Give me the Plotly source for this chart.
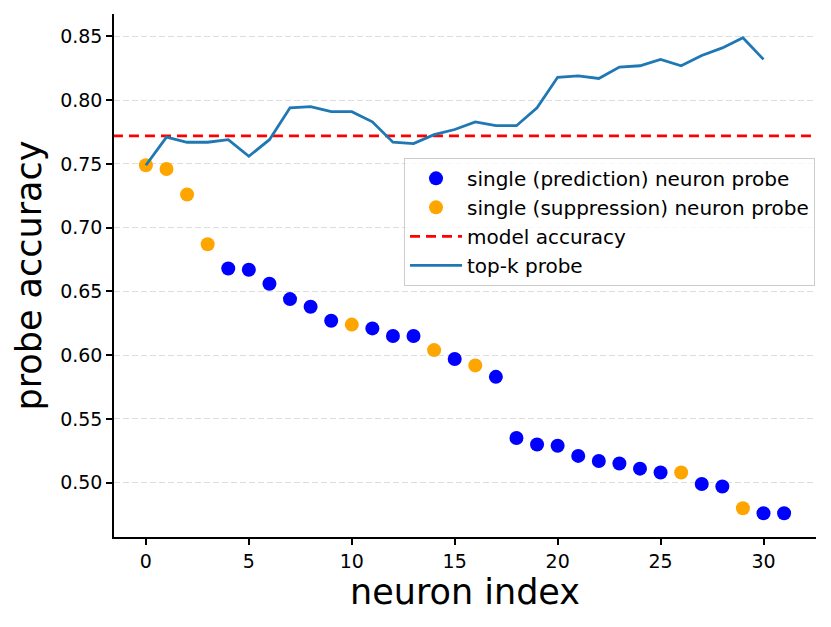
import plotly.graph_objects as go

neuron_index = list(range(32))
single_acc = [0.749, 0.746, 0.726, 0.687, 0.668, 0.667, 0.656, 0.644, 0.638, 0.627,
              0.624, 0.621, 0.615, 0.615, 0.604, 0.597, 0.592, 0.583, 0.535, 0.530,
              0.529, 0.521, 0.517, 0.515, 0.511, 0.508, 0.508, 0.499, 0.497, 0.480,
              0.476, 0.476]
neuron_type = ["s", "s", "s", "s", "p", "p", "p", "p", "p", "p",
               "s", "p", "p", "p", "s", "p", "s", "p", "p", "p",
               "p", "p", "p", "p", "p", "p", "s", "p", "p", "s",
               "p", "p"]
topk_index = list(range(31))
topk_acc = [0.749, 0.771, 0.767, 0.767, 0.769, 0.756, 0.769, 0.794, 0.795, 0.791,
            0.791, 0.783, 0.767, 0.766, 0.773, 0.777, 0.783, 0.780, 0.780, 0.794,
            0.818, 0.819, 0.817, 0.826, 0.827, 0.832, 0.827, 0.835, 0.841, 0.849,
            0.832]
model_accuracy = 0.772
x_ticks = [0, 5, 10, 15, 20, 25, 30]
y_ticks = [0.50, 0.55, 0.60, 0.65, 0.70, 0.75, 0.80, 0.85]

FONT = "DejaVu Sans"

pred_x = [i for i, t in zip(neuron_index, neuron_type) if t == "p"]
pred_y = [a for a, t in zip(single_acc, neuron_type) if t == "p"]
sup_x = [i for i, t in zip(neuron_index, neuron_type) if t == "s"]
sup_y = [a for a, t in zip(single_acc, neuron_type) if t == "s"]

fig = go.Figure()
fig.add_trace(go.Scatter(x=pred_x, y=pred_y, mode="markers", name="single (prediction) neuron probe",
                         marker=dict(color="blue", size=14)))
fig.add_trace(go.Scatter(x=sup_x, y=sup_y, mode="markers", name="single (suppression) neuron probe",
                         marker=dict(color="orange", size=14)))
fig.add_trace(go.Scatter(x=[-1.6, 32.6], y=[model_accuracy, model_accuracy], mode="lines",
                         name="model accuracy",
                         line=dict(color="red", width=2.8, dash="10px,6px")))
fig.add_trace(go.Scatter(x=topk_index, y=topk_acc, mode="lines", name="top-k probe",
                         line=dict(color="#1f77b4", width=2.8)))

fig.update_layout(
    width=831, height=627,
    margin=dict(l=106, r=23, t=6, b=98),
    paper_bgcolor="white", plot_bgcolor="white",
    font=dict(family=FONT, size=19, color="black"),
    showlegend=True,
    legend=dict(x=0.9986, y=0.725, xanchor="right", yanchor="top",
                bgcolor="rgba(255,255,255,0.8)", bordercolor="#cccccc", borderwidth=1,
                font=dict(family=FONT, size=20), tracegroupgap=0, itemwidth=52),
)
fig.update_xaxes(range=[-1.55, 32.55], tickvals=x_ticks, ticks="outside", ticklen=6, tickwidth=1.5,
                 tickcolor="black", showline=True, linecolor="black", linewidth=1.5,
                 showgrid=False, zeroline=False,
                 title=dict(text="neuron index", font=dict(family=FONT, size=35), standoff=8),
                 tickfont=dict(size=19))
fig.update_yaxes(range=[0.4574, 0.8676], tickvals=y_ticks, tickformat=".2f", ticks="outside",
                 ticklen=6, tickwidth=1.5, tickcolor="black", showline=True, linecolor="black",
                 linewidth=1.5, showgrid=True, gridcolor="#dddddd", griddash="6px,3px", gridwidth=1.2,
                 zeroline=False,
                 title=dict(text="probe accuracy", font=dict(family=FONT, size=35), standoff=8),
                 tickfont=dict(size=19))

fig.write_html("out.html")
